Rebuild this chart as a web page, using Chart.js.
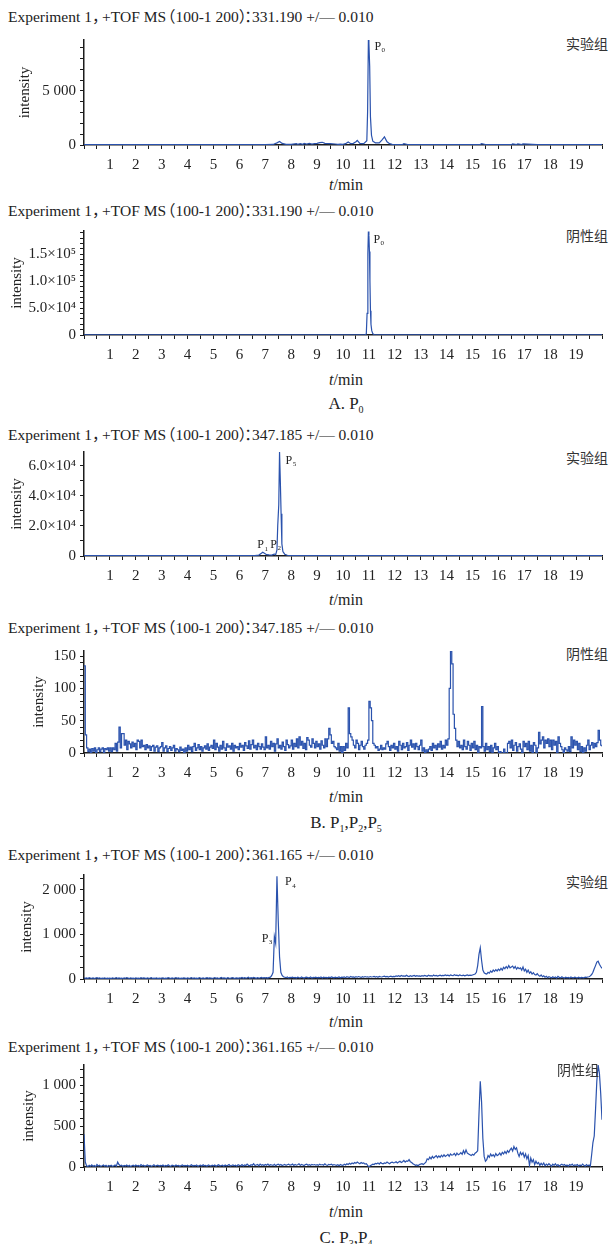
<!DOCTYPE html>
<html>
<head>
<meta charset="utf-8">
<title>EIC chromatograms</title>
<script src="https://cdn.jsdelivr.net/npm/chart.js@4.4.0/dist/chart.umd.min.js"></script>
<style>
  body { margin: 0; width: 609px; height: 1244px; position: relative; background: #fff; overflow: hidden;
         font-family: 'Liberation Serif', 'DejaVu Serif', serif; color: #222; }
  .head { position: absolute; left: 8px; font-size: 15.5px; line-height: 18px; white-space: nowrap; }
  .cj   { font-family: 'Noto Sans CJK SC', sans-serif; line-height: 0; }
  .cm   { margin-right: -0.35em; }
  .op   { margin-left: -0.4em; }
  .cp   { margin-right: -0.15em; }
  .co   { margin-right: -0.5em; }
  .grp  { position: absolute; font-family: 'Noto Sans CJK SC', sans-serif; font-size: 14px; line-height: 18px; color: #333; }
  .xt   { position: absolute; left: 84px; width: 524px; text-align: center; font-size: 16px; line-height: 18px; }
  .cap  { position: absolute; left: 84px; width: 524px; text-align: center; font-size: 17px; line-height: 20px; }
  .cap sub { font-size: 10px; }
  .panel { position: absolute; left: 0; }
</style>
</head>
<body>

<div class="head" style="top:8px">Experiment 1<span class="cj cm">，</span>+TOF MS<span class="cj op">（</span>100-1 200<span class="cj cp">）</span><span class="cj co">：</span>331.190 +/— 0.010</div>
<div class="grp" style="top:34px; right:1px">实验组</div>
<canvas id="chartA1" class="panel" style="top:27px" width="609" height="148"></canvas>
<div class="xt" style="top:176px"><i>t</i>/min</div>

<div class="head" style="top:202px">Experiment 1<span class="cj cm">，</span>+TOF MS<span class="cj op">（</span>100-1 200<span class="cj cp">）</span><span class="cj co">：</span>331.190 +/— 0.010</div>
<div class="grp" style="top:226px; right:1px">阴性组</div>
<canvas id="chartA2" class="panel" style="top:218px" width="609" height="147"></canvas>
<div class="xt" style="top:371px"><i>t</i>/min</div>
<div class="cap" style="top:394px">A. P<sub>0</sub></div>

<div class="head" style="top:426px">Experiment 1<span class="cj cm">，</span>+TOF MS<span class="cj op">（</span>100-1 200<span class="cj cp">）</span><span class="cj co">：</span>347.185 +/— 0.010</div>
<div class="grp" style="top:448px; right:1px">实验组</div>
<canvas id="chartB1" class="panel" style="top:439px" width="609" height="147"></canvas>
<div class="xt" style="top:591px"><i>t</i>/min</div>

<div class="head" style="top:619px">Experiment 1<span class="cj cm">，</span>+TOF MS<span class="cj op">（</span>100-1 200<span class="cj cp">）</span><span class="cj co">：</span>347.185 +/— 0.010</div>
<div class="grp" style="top:644px; right:1px">阴性组</div>
<canvas id="chartB2" class="panel" style="top:638px" width="609" height="145"></canvas>
<div class="xt" style="top:788px"><i>t</i>/min</div>
<div class="cap" style="top:813px">B. P<sub>1</sub>,P<sub>2</sub>,P<sub>5</sub></div>

<div class="head" style="top:846px">Experiment 1<span class="cj cm">，</span>+TOF MS<span class="cj op">（</span>100-1 200<span class="cj cp">）</span><span class="cj co">：</span>361.165 +/— 0.010</div>
<div class="grp" style="top:872px; right:1px">实验组</div>
<canvas id="chartC1" class="panel" style="top:862px" width="609" height="147"></canvas>
<div class="xt" style="top:1013px"><i>t</i>/min</div>

<div class="head" style="top:1038px">Experiment 1<span class="cj cm">，</span>+TOF MS<span class="cj op">（</span>100-1 200<span class="cj cp">）</span><span class="cj co">：</span>361.165 +/— 0.010</div>
<canvas id="chartC2" class="panel" style="top:1052px" width="609" height="145"></canvas>
<div class="grp" style="top:1060px; right:10px">阴性组</div>
<div class="xt" style="top:1203px"><i>t</i>/min</div>
<div class="cap" style="top:1228px">C. P<sub>3</sub>,P<sub>4</sub></div>

<script>
// ---- data ----

// A. m/z 331.190, experimental group
var timesA1 = [0, 1, 2, 3, 4, 5, 6, 7, 7.3, 7.45, 7.55, 7.65, 7.8, 8.0, 8.2, 8.25, 8.35, 8.45, 8.5, 8.6, 8.7, 8.8, 8.9,
  9.0, 9.1, 9.2, 9.3, 9.5, 9.7, 9.8, 9.9, 10.0, 10.1, 10.2, 10.3, 10.4, 10.5, 10.55, 10.65, 10.8, 10.92, 10.95, 10.98,
  11.0, 11.03, 11.06, 11.1, 11.15, 11.25, 11.4, 11.5, 11.6, 11.7, 11.8, 11.9, 12.0, 12.3, 12.35, 12.5,
  13, 14, 15, 15.3, 15.35, 15.5, 16, 16.5, 16.55, 16.7, 16.75, 16.9, 16.95, 17.5, 18, 19, 20];
var intensA1 = [30, 30, 30, 30, 30, 30, 30, 40, 50, 200, 330, 150, 60, 50, 120, 60, 130, 70, 140, 80, 150, 90, 120,
  150, 220, 250, 150, 120, 90, 60, 80, 60, 120, 280, 120, 150, 300, 420, 150, 120, 400, 3100, 9700,
  9400, 7300, 2600, 900, 350, 200, 200, 450, 750, 300, 120, 60, 40, 40, 120, 40,
  30, 30, 30, 40, 130, 40, 30, 30, 100, 40, 110, 40, 100, 30, 30, 30, 30];

// A. m/z 331.190, negative group
var timesA2 = [0, 5, 10, 10.85, 10.9, 10.93, 10.96, 10.98, 11.0, 11.02, 11.04, 11.06, 11.08, 11.11, 11.15, 11.2, 11.3, 12, 16, 20];
var intensA2 = [300, 300, 300, 400, 2000, 40000, 150000, 192000, 185000, 155000, 100000, 45000, 20000, 8000, 2500, 800, 300, 300, 300, 300];

// B. m/z 347.185, experimental group
var timesB1 = [0, 3, 6, 6.6, 6.75, 6.85, 6.9, 6.95, 7.05, 7.15, 7.25, 7.32, 7.36, 7.4, 7.45, 7.48, 7.52, 7.55, 7.58, 7.61,
  7.64, 7.68, 7.75, 7.85, 8.0, 9, 12, 16, 20];
var intensB1 = [200, 200, 200, 250, 600, 1800, 2500, 2000, 900, 700, 600, 1100, 1300, 800, 4000, 20000, 34000, 69000, 50000, 28000,
  8000, 3000, 1200, 500, 250, 200, 200, 200, 200];

// the noisy traces are sampled every 0.05 min, one row per minute
var sampleTimes = [];
for (var i = 0; i <= 400; i++) sampleTimes.push(Math.round(i * 5) / 100);

// B. m/z 347.185, negative group
var intensB2 = [
  135, 28, 8, 2, 6, 0, 7, 3, 8, 0, 5, 8, 2, 6, 8, 0, 7, 5, 8, 3,
  8, 2, 8, 5, 15, 3, 17, 40, 8, 30, 30, 12, 20, 5, 18, 14, 8, 17, 10, 15,
  5, 20, 18, 8, 20, 10, 12, 5, 13, 8, 11, 4, 10, 12, 3, 9, 11, 2, 8, 10,
  16, 3, 8, 11, 2, 7, 10, 4, 8, 12, 3, 7, 5, 2, 9, 4, 6, 0, 8, 3,
  12, 5, 9, 2, 10, 15, 4, 8, 13, 5, 10, 3, 8, 11, 6, 14, 4, 9, 12, 7,
  20, 5, 15, 9, 3, 12, 6, 18, 8, 4, 14, 9, 11, 6, 15, 3, 12, 8, 10, 5,
  15, 9, 12, 4, 16, 11, 7, 19, 6, 13, 20, 8, 12, 5, 15, 10, 6, 14, 9, 5,
  25, 8, 12, 6, 18, 10, 15, 3, 14, 22, 8, 12, 6, 17, 10, 4, 20, 13, 8, 11,
  20, 6, 15, 10, 22, 8, 25, 12, 18, 7, 15, 5, 24, 20, 12, 9, 22, 15, 8, 18,
  10, 14, 6, 19, 12, 8, 22, 10, 22, 38, 28, 15, 18, 10, 8, 5, 15, 3, 10, 0,
  10, 4, 15, 8, 70, 30, 25, 20, 12, 8, 20, 15, 5, 12, 18, 10, 6, 12, 15, 20,
  80, 70, 50, 15, 12, 8, 10, 4, 6, 12, 5, 8, 6, 14, 18, 10, 4, 12, 8, 15,
  6, 10, 3, 18, 12, 5, 15, 8, 10, 16, 4, 12, 20, 9, 14, 6, 15, 10, 5, 12,
  20, 3, 8, 0, 5, 2, 6, 10, 4, 15, 8, 12, 5, 14, 9, 18, 6, 12, 8, 20,
  12, 22, 100, 158, 138, 60, 38, 20, 10, 18, 8, 12, 5, 20, 10, 6, 18, 12, 4, 15,
  8, 18, 5, 12, 0, 10, 8, 72, 10, 3, 15, 5, 10, 2, 12, 0, 8, 15, 5, 10,
  0, 2, 0, 0, 6, 0, 0, 15, 18, 8, 20, 4, 12, 16, 3, 10, 14, 6, 0, 18,
  10, 15, 5, 18, 3, 12, 0, 16, 12, 0, 8, 32, 14, 20, 25, 8, 20, 15, 22, 10,
  20, 5, 20, 12, 18, 0, 25, 15, 10, 5, 0, 8, 5, 3, 10, 2, 25, 8, 20, 12,
  18, 5, 15, 2, 10, 0, 8, 3, 12, 20, 5, 12, 16, 8, 15, 10, 16, 35, 20, 12,
  10];

// C. m/z 361.165, experimental group
var intensC1 = [
  30, 15, 25, 10, 30, 20, 15, 25, 10, 20, 30, 15, 25, 10, 20, 15, 25, 10, 20, 15,
  20, 10, 25, 15, 20, 30, 10, 25, 15, 20, 10, 25, 15, 30, 20, 10, 25, 15, 20, 10,
  25, 15, 20, 10, 30, 15, 25, 20, 10, 25, 15, 20, 30, 10, 20, 15, 25, 10, 20, 15,
  20, 25, 10, 20, 15, 30, 20, 10, 25, 15, 20, 30, 15, 25, 10, 20, 15, 25, 20, 10,
  25, 15, 20, 30, 10, 25, 15, 20, 10, 30, 20, 15, 25, 10, 20, 30, 15, 25, 20, 15,
  20, 30, 15, 25, 10, 20, 35, 15, 25, 20, 10, 30, 20, 15, 25, 30, 10, 20, 25, 15,
  25, 20, 35, 15, 30, 20, 25, 40, 15, 30, 20, 35, 25, 15, 30, 20, 25, 35, 20, 30,
  25, 30, 20, 35, 40, 80, 150, 950, 800, 2300, 1300, 500, 150, 80, 50, 40, 30, 45, 25, 35,
  30, 40, 25, 35, 20, 40, 30, 25, 45, 30, 20, 35, 40, 25, 30, 45, 20, 35, 30, 40,
  25, 35, 30, 45, 20, 40, 30, 35, 25, 40, 30, 45, 35, 25, 40, 30, 35, 45, 25, 40,
  35, 45, 30, 50, 40, 35, 55, 40, 45, 35, 50, 40, 55, 45, 35, 50, 40, 55, 45, 50,
  40, 55, 45, 50, 60, 45, 55, 40, 60, 50, 45, 55, 65, 50, 60, 45, 55, 65, 50, 60,
  55, 70, 60, 75, 55, 80, 65, 70, 60, 85, 65, 55, 75, 60, 70, 80, 60, 75, 65, 70,
  60, 75, 65, 80, 70, 60, 85, 70, 75, 65, 90, 70, 80, 65, 75, 85, 70, 80, 75, 90,
  75, 85, 70, 90, 80, 75, 95, 80, 85, 70, 90, 80, 75, 85, 70, 80, 90, 75, 85, 80,
  90, 100, 110, 150, 300, 550, 700, 420, 200, 140, 120, 110, 150, 130, 180, 150, 200, 170, 210, 180,
  220, 190, 240, 200, 260, 230, 280, 240, 300, 250, 270, 290, 240, 280, 220, 260, 230, 250, 200, 270,
  180, 220, 150, 200, 130, 160, 110, 140, 100, 90, 120, 80, 60, 90, 50, 70, 40, 60, 30, 50,
  40, 25, 50, 30, 45, 20, 60, 35, 25, 50, 30, 20, 40, 25, 35, 20, 45, 30, 25, 40,
  30, 25, 40, 20, 35, 30, 25, 40, 35, 45, 50, 70, 100, 150, 230, 300, 380, 400, 330, 280,
  240];

// C. m/z 361.165, negative group
var intensC2 = [
  400, 60, 15, 5, 20, 10, 25, 8, 18, 5, 30, 12, 22, 8, 15, 25, 10, 20, 5, 18,
  12, 22, 8, 15, 25, 10, 60, 30, 15, 22, 8, 18, 12, 25, 10, 20, 5, 15, 22, 10,
  25, 12, 20, 8, 30, 15, 22, 10, 18, 25, 12, 20, 8, 15, 28, 10, 18, 22, 12, 20,
  15, 25, 10, 20, 12, 28, 15, 8, 22, 18, 10, 25, 15, 20, 8, 18, 25, 12, 20, 15,
  22, 10, 18, 28, 12, 20, 15, 25, 8, 18, 22, 12, 28, 15, 20, 10, 25, 18, 12, 22,
  15, 25, 10, 20, 28, 12, 18, 22, 10, 25, 15, 20, 30, 12, 18, 25, 15, 22, 10, 28,
  20, 15, 30, 12, 25, 18, 35, 20, 15, 28, 22, 40, 18, 25, 30, 15, 35, 22, 28, 18,
  30, 22, 35, 18, 28, 25, 20, 32, 15, 28, 35, 22, 30, 18, 25, 32, 20, 28, 35, 22,
  25, 35, 18, 30, 22, 28, 40, 20, 32, 25, 18, 30, 35, 22, 28, 20, 32, 25, 30, 22,
  28, 20, 35, 25, 30, 22, 38, 25, 20, 32, 28, 35, 22, 30, 25, 20, 28, 15, 30, 22,
  20, 35, 25, 40, 30, 45, 35, 50, 40, 55, 45, 60, 50, 40, 55, 45, 50, 35, 40, 20,
  0, 15, 25, 35, 30, 45, 40, 50, 35, 55, 45, 40, 50, 45, 60, 50, 40, 55, 60, 50,
  55, 65, 50, 60, 70, 55, 65, 80, 60, 75, 70, 90, 65, 55, 40, 30, 20, 25, 15, 30,
  35, 40, 30, 45, 60, 100, 90, 120, 100, 130, 110, 125, 140, 115, 135, 120, 145, 125, 150, 130,
  140, 155, 130, 160, 145, 150, 165, 140, 170, 150, 160, 175, 155, 200, 165, 210, 170, 160, 150, 140,
  155, 145, 170, 180, 200, 650, 1050, 800, 350, 130, 70, 90, 140, 120, 160, 135, 150, 125, 165, 140,
  150, 170, 145, 180, 160, 190, 165, 200, 180, 210, 230, 195, 250, 215, 235, 170, 130, 180, 150, 175,
  120, 160, 100, 140, 20, 110, 60, 90, 30, 70, 40, 55, 20, 45, 25, 50, 15, 35, 20, 40,
  25, 10, 35, 20, 40, 15, 30, 10, 25, 35, 20, 30, 15, 25, 10, 30, 20, 35, 15, 25,
  20, 30, 10, 25, 15, 35, 20, 10, 30, 15, 25, 10, 150, 300, 380, 700, 1050, 1250, 1150, 900,
  580];

// y tick labels (one per major step)
var yLabelsA1 = ['0', '5 000'];
var yLabelsA2 = ['0', '5.0×10⁴', '1.0×10⁵', '1.5×10⁵'];
var yLabelsB1 = ['0', '2.0×10⁴', '4.0×10⁴', '6.0×10⁴'];
var yLabelsB2 = ['0', '50', '100', '150'];
var yLabelsC1 = ['0', '1 000', '2 000'];
var yLabelsC2 = ['0', '500', '1 000'];

// peak names: P + subscript, anchored at the peak apex
var peaksA1 = [{ sub: '0', t: 10.98, v: 9700, dx: 6, dy: 7, align: 'left' }];
var peaksA2 = [{ sub: '0', t: 10.98, v: 192000, dx: 5, dy: 8, align: 'left' }];
var peaksB1 = [
  { sub: '5', t: 7.55, v: 69000, dx: 6, dy: 9, align: 'left' },
  { sub: '1', t: 6.9, v: 2500, dx: 0, dy: -7, align: 'center' },
  { sub: '2', t: 7.36, v: 1300, dx: 1, dy: -9, align: 'center' }
];
var peaksB2 = [];
var peaksC1 = [
  { sub: '4', t: 7.45, v: 2300, dx: 8, dy: 6, align: 'left' },
  { sub: '3', t: 7.35, v: 950, dx: -2, dy: 2, align: 'right' }
];
var peaksC2 = [];

// ---- drawing ----
var lineBlue = '#2a52ad';
var axisColor = '#1c1c1c';
var textColor = '#222';
var serif = "'Liberation Serif', 'DejaVu Serif', serif";

var peakLabelPlugin = {
  id: 'peakLabels',
  afterDatasetsDraw: function(chart, args, opts) {
    var ctx = chart.ctx;
    var xs = chart.scales.x, ys = chart.scales.y;
    (opts.items || []).forEach(function(p) {
      var x = xs.getPixelForValue(p.t) + p.dx;
      var y = ys.getPixelForValue(p.v) + p.dy;
      ctx.save();
      ctx.fillStyle = textColor;
      ctx.textBaseline = 'middle';
      ctx.textAlign = 'left';
      ctx.font = '12px ' + serif;
      var wP = ctx.measureText('P').width;
      ctx.font = '7px ' + serif;
      var wS = ctx.measureText(p.sub).width;
      var w = wP + wS + 0.5;
      var left = p.align === 'right' ? x - w : (p.align === 'center' ? x - w / 2 : x);
      ctx.font = '12px ' + serif;
      ctx.fillText('P', left, y);
      ctx.font = '7px ' + serif;
      ctx.fillText(p.sub, left + wP + 0.5, y + 3.5);
      ctx.restore();
    });
  }
};

// tick positions every `step` from 0 up to `max`
function tickValues(max, step) {
  var out = [];
  for (var k = 0; k * step <= max + 1e-9; k++) out.push({ value: Math.round(k * step * 1000) / 1000 });
  return out;
}

function makePanel(id, times, values, yMax, yStep, yMajor, yLabels, titlePad, peaks, stepped) {
  return new Chart(document.getElementById(id), {
    type: 'line',
    data: {
      labels: times,
      datasets: [{ data: values, borderColor: lineBlue, borderWidth: 1.2, pointRadius: 0, tension: 0,
                   fill: false, stepped: stepped || false }]
    },
    options: {
      responsive: false,
      animation: false,
      events: [],
      layout: { padding: { top: 10, right: 1, left: 0, bottom: 0 } },
      plugins: {
        legend: { display: false },
        tooltip: { enabled: false },
        peakLabels: { items: peaks }
      },
      scales: {
        x: {
          type: 'linear', min: 0, max: 20, bounds: 'data',
          afterBuildTicks: function(s) { s.ticks = tickValues(20, 0.5); },
          afterFit: function(s) { s.height = 30; },
          border: { color: axisColor, width: 1.5 },
          grid: { drawOnChartArea: false, tickLength: 4, color: axisColor },
          ticks: {
            autoSkip: false, maxRotation: 0, padding: 7, color: textColor,
            font: { family: serif, size: 15 },
            callback: function(v) { return (Number.isInteger(v) && v > 0 && v < 20) ? String(v) : ''; }
          }
        },
        y: {
          min: 0, max: yMax, bounds: 'data',
          afterBuildTicks: function(s) { s.ticks = tickValues(yMax, yStep); },
          afterFit: function(s) { s.width = 84; },
          border: { color: axisColor, width: 1.5 },
          grid: { drawOnChartArea: false, tickLength: 4, color: axisColor },
          ticks: {
            autoSkip: false, padding: 4, color: textColor,
            font: { family: serif, size: 15 },
            callback: function(v) {
              var k = Math.round(v / yMajor);
              return (Math.abs(v - k * yMajor) < yStep / 10 && k < yLabels.length) ? yLabels[k] : '';
            }
          },
          title: {
            display: true, text: 'intensity', color: textColor,
            font: { family: serif, size: 15 },
            padding: { top: titlePad, bottom: 0 }
          }
        }
      }
    },
    plugins: [peakLabelPlugin]
  });
}

makePanel('chartA1', timesA1, intensA1, 9700, 1000, 5000, yLabelsA1, 16, peaksA1);
makePanel('chartA2', timesA2, intensA2, 193000, 10000, 50000, yLabelsA2, 8.5, peaksA2);
makePanel('chartB1', timesB1, intensB1, 69000, 10000, 20000, yLabelsB1, 8.5, peaksB1);
makePanel('chartB2', sampleTimes, intensB2, 158, 10, 50, yLabelsB2, 30, peaksB2, true);
makePanel('chartC1', sampleTimes, intensC1, 2330, 250, 1000, yLabelsC1, 18, peaksC1);
makePanel('chartC2', sampleTimes, intensC2, 1250, 100, 500, yLabelsC2, 20, peaksC2);
</script>
</body>
</html>
